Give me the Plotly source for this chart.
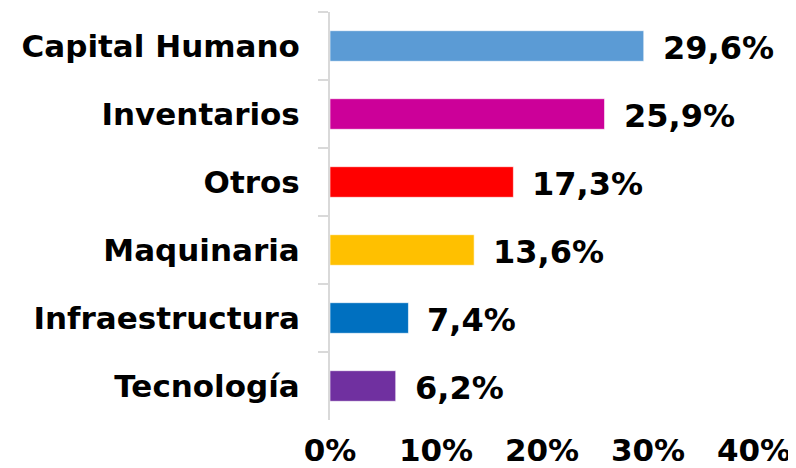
import plotly.graph_objects as go

categories = ["Capital Humano", "Inventarios", "Otros", "Maquinaria", "Infraestructura", "Tecnología"]
values = [29.6, 25.9, 17.3, 13.6, 7.4, 6.2]
value_labels = ["29,6%", "25,9%", "17,3%", "13,6%", "7,4%", "6,2%"]
colors = ["#5B9BD5", "#CC0099", "#FF0000", "#FFC000", "#0070C0", "#7030A0"]
x_ticks = [0, 10, 20, 30, 40]
x_tick_labels = ["0%", "10%", "20%", "30%", "40%"]

FONT = "DejaVu Sans"

fig = go.Figure(go.Bar(
    x=values, y=categories, orientation="h",
    marker=dict(color=colors, line=dict(color="rgba(255,255,255,0.6)", width=1)),
    hoverinfo="skip",
))

for c, v, t in zip(categories, values, value_labels):
    fig.add_annotation(x=v, y=c, text=t, showarrow=False, xanchor="left", yanchor="middle",
                       xshift=17, yshift=-2,
                       font=dict(family=FONT, size=32, color="black", weight="bold"))

# the page body adds an 8px margin, so the figure is sized to fit the window
fig.update_layout(
    width=788, height=460,
    margin=dict(l=322, r=42, t=4, b=48),
    paper_bgcolor="white", plot_bgcolor="white",
    bargap=0.55,
    showlegend=False,
    font=dict(family=FONT, size=31, color="black", weight="bold"),
)
fig.update_xaxes(
    range=[0, 40], tickvals=x_ticks, ticktext=x_tick_labels,
    showgrid=False, zeroline=False, showline=False, automargin=False,
    ticks="outside", ticklen=3, tickcolor="rgba(0,0,0,0)",
    tickfont=dict(family=FONT, size=31, color="black", weight="bold"),
)
fig.update_yaxes(
    autorange="reversed", showgrid=False, zeroline=False, automargin=False,
    showline=True, linecolor="#D9D9D9", linewidth=2,
    ticks="outside", tickson="boundaries", ticklen=10, tickcolor="#D9D9D9", tickwidth=2,
    ticklabelstandoff=22,
    tickfont=dict(family=FONT, size=31, color="black", weight="bold"),
)

fig.write_html("out.html")
